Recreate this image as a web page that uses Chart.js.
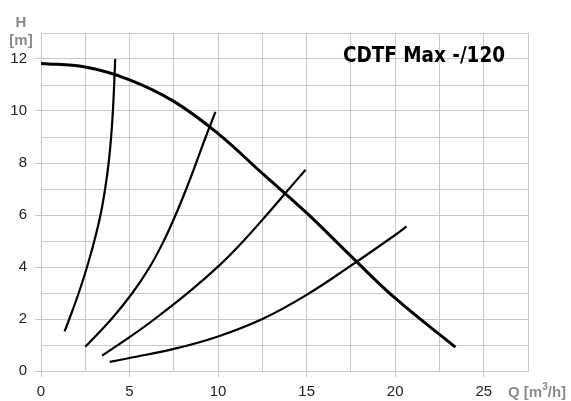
<!DOCTYPE html>
<html>
<head>
<meta charset="utf-8">
<script src="https://cdn.jsdelivr.net/npm/chart.js@4/dist/chart.umd.min.js"></script>
<style>
  html, body { margin: 0; padding: 0; background: #fff; }
  #wrap { width: 571px; height: 401px; position: relative; }
</style>
</head>
<body>
<div id="wrap"><canvas id="myChart"></canvas></div>
<script>
// pump curve  Q [m3/h] -> H [m]
let pumpQ = [0, 2.5, 5, 7.5, 10, 12.5, 15, 17.5, 20, 23.4];
let pumpH = [11.83, 11.69, 11.2, 10.37, 9.13, 7.6, 6.08, 4.42, 2.8, 0.92];

// system curves
let sys1Q = [1.33, 1.6, 2.13, 2.6, 3.01, 3.36, 3.62, 3.82, 3.96, 4.06, 4.13, 4.19];
let sys1H = [1.52, 2, 3, 4, 5, 6, 7, 8, 9, 10, 11, 12];
let sys2Q = [2.5, 3.98, 5.16, 6.14, 6.93, 7.6, 8.2, 8.76, 9.3, 9.85];
let sys2H = [0.93, 2, 3, 4, 5, 6, 7, 8, 9, 9.97];
let sys3Q = [3.45, 5, 6.42, 8.5, 10.1, 11.4, 12.7, 14.0, 14.94];
let sys3H = [0.59, 1.3, 2.0, 3.12, 4.08, 4.98, 5.97, 7.0, 7.74];
let sys4Q = [3.88, 5, 7.5, 10, 12.5, 15, 17.5, 20, 20.64];
let sys4H = [0.35, 0.5, 0.85, 1.33, 2.0, 2.93, 4.05, 5.23, 5.56];

let title = "CDTF Max -/120";

function toPoints(qs, hs){
    let pts = [];
    for(let i = 0; i < qs.length; i++){
        pts.push({x: qs[i], y: hs[i]});
    }
    return pts;
}

function curve(qs, hs, width){
    return {
        data: toPoints(qs, hs),
        showLine: true,
        borderColor: '#000',
        borderWidth: width,
        pointRadius: 0,
        tension: 0.4,
        borderCapStyle: 'butt'
    };
}

// extra texts: axis names + title
const labelsPlugin = {
    id: 'labels',
    afterDraw(chart){
        let ctx = chart.ctx;
        ctx.save();
        ctx.fillStyle = '#8a8a8a';
        ctx.font = 'bold 15px "Liberation Sans", Arial, sans-serif';
        ctx.textAlign = 'center';
        ctx.textBaseline = 'alphabetic';
        ctx.fillText('H', 21, 27);
        ctx.fillText('[m]', 21, 45);

        // Q [m3/h]
        ctx.textAlign = 'left';
        let x = 508;
        let y = 397;
        ctx.fillText('Q [m', x, y);
        x += ctx.measureText('Q [m').width;
        ctx.font = 'bold 10px "Liberation Sans", Arial, sans-serif';
        ctx.fillText('3', x, y - 7);
        x += ctx.measureText('3').width;
        ctx.font = 'bold 15px "Liberation Sans", Arial, sans-serif';
        ctx.fillText('/h]', x, y);

        // title, squeezed to the narrow look
        ctx.fillStyle = '#000';
        ctx.font = 'bold 22px "DejaVu Sans Condensed", "Liberation Sans", sans-serif';
        let w = ctx.measureText(title).width;
        let target = 162;
        ctx.translate(343, 62);
        ctx.scale(target / w, 1);
        ctx.fillText(title, 0, 0);
        ctx.restore();
    }
};

let ctx = document.getElementById('myChart').getContext('2d');
let myChart = new Chart(ctx, {
    type: 'scatter',
    data: {
        datasets: [
            curve(pumpQ, pumpH, 3),
            curve(sys1Q, sys1H, 2.2),
            curve(sys2Q, sys2H, 2.2),
            curve(sys3Q, sys3H, 2.2),
            curve(sys4Q, sys4H, 2.2)
        ]
    },
    options: {
        responsive: true,
        maintainAspectRatio: false,
        animation: false,
        layout: { padding: { top: 33, right: 43, left: 0, bottom: 0 } },
        plugins: {
            legend: { display: false },
            tooltip: { enabled: false }
        },
        scales: {
            x: {
                type: 'linear',
                min: 0,
                max: 27.5,
                afterFit: (scale) => { scale.height = 30; },
                border: { color: '#c8c8c8', width: 1 },
                grid: {
                    color: '#c8c8c8',
                    lineWidth: 1,
                    tickLength: 6,
                    tickColor: (c) => (c.tick && c.tick.value % 5 === 0) ? '#c8c8c8' : 'rgba(0,0,0,0)'
                },
                ticks: {
                    stepSize: 2.5,
                    autoSkip: false,
                    maxRotation: 0,
                    padding: 6,
                    color: '#222',
                    font: { family: '"Liberation Sans", Arial, sans-serif', size: 15 },
                    callback: (v) => (v % 5 === 0 && v < 27) ? v : ''
                }
            },
            y: {
                min: 0,
                max: 13,
                afterFit: (scale) => { scale.width = 41; },
                border: { color: '#c8c8c8', width: 1 },
                grid: {
                    color: '#c8c8c8',
                    lineWidth: 1,
                    tickLength: 6,
                    tickColor: (c) => (c.tick && c.tick.value % 2 === 0) ? '#c8c8c8' : 'rgba(0,0,0,0)'
                },
                ticks: {
                    stepSize: 1,
                    autoSkip: false,
                    padding: 8,
                    color: '#222',
                    font: { family: '"Liberation Sans", Arial, sans-serif', size: 15 },
                    callback: (v) => (v % 2 === 0) ? v : ''
                }
            }
        }
    },
    plugins: [labelsPlugin]
});
</script>
</body>
</html>
